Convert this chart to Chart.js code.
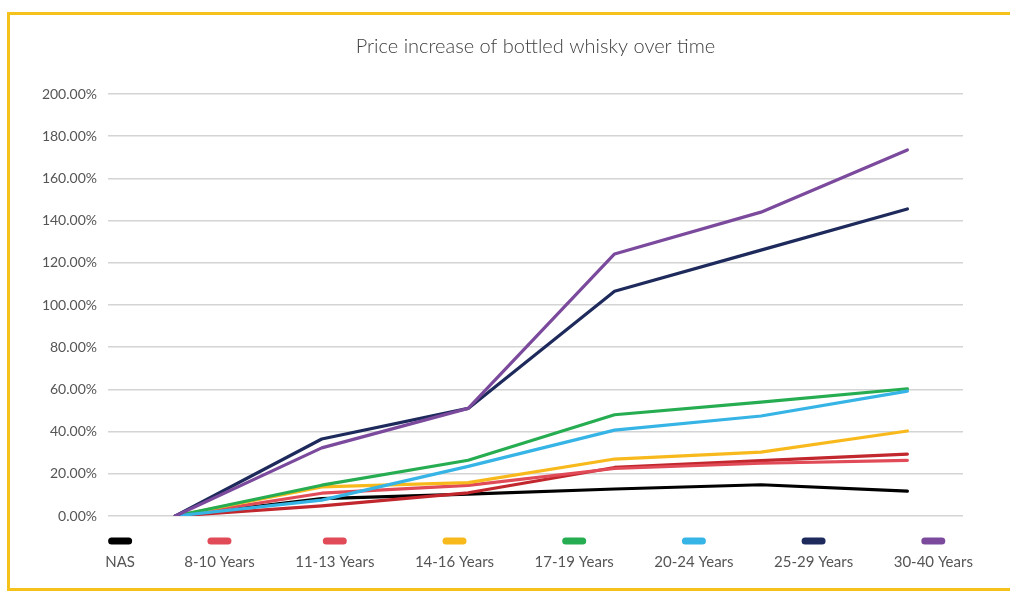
<!DOCTYPE html>
<html>
<head>
<meta charset="utf-8">
<script src="https://cdn.jsdelivr.net/npm/chart.js@4/dist/chart.umd.min.js"></script>
<style>
  html, body { margin: 0; padding: 0; background: #ffffff; }
  #wrap { position: relative; width: 1010px; height: 593px; overflow: hidden; }
  #frame { position: absolute; left: 7px; top: 12px; width: 1020px; height: 573px;
           border: 3px solid #f5c21b; border-right: none; }
  #c { position: absolute; left: 0; top: 0; }
</style>
</head>
<body>
<div id="wrap">
  <div id="frame"></div>
  <canvas id="c" width="1010" height="593"></canvas>
</div>
<script>
const chartTitle = 'Price increase of bottled whisky over time';
const periods = [1, 2, 3, 4, 5, 6];
const seriesNames = ['NAS', '8-10 Years', '11-13 Years', '14-16 Years', '17-19 Years', '20-24 Years', '25-29 Years', '30-40 Years'];
const nas    = [0, 8.2, 10.4, 12.8, 14.8, 11.8];
const y8_10  = [0, 4.8, 11.0, 23.0, 26.2, 29.3];
const y11_13 = [0, 10.8, 14.5, 22.5, 25.0, 26.4];
const y14_16 = [0, 13.8, 15.8, 27.0, 30.3, 40.3];
const y17_19 = [0, 14.6, 26.4, 48.0, 54.0, 60.3];
const y20_24 = [0, 7.5, 23.5, 40.7, 47.4, 59.2];
const y25_29 = [0, 36.5, 51.0, 106.5, 126.0, 145.5];
const y30_40 = [0, 32.3, 51.0, 124.2, 144.0, 173.5];
const yTicks = [0, 20, 40, 60, 80, 100, 120, 140, 160, 180, 200];

const seriesValues = [nas, y8_10, y11_13, y14_16, y17_19, y20_24, y25_29, y30_40];
const colors = ['#000000', '#c1272d', '#e04b57', '#f8b91c', '#27ad51', '#36b4e5', '#1e2a5c', '#7b4a9d'];
const legendColors = ['#000000', '#e04b57', '#e04b57', '#f8b91c', '#27ad51', '#36b4e5', '#1e2a5c', '#7b4a9d'];

const datasets = seriesNames.map((name, i) => ({
  label: name,
  data: periods.map((p, j) => ({ x: p, y: seriesValues[i][j] })),
  borderColor: colors[i],
  backgroundColor: colors[i],
  legendColor: legendColors[i],
  borderWidth: 3.2,
  pointRadius: 0,
  tension: 0,
  fill: false,
  order: seriesNames.length - i,
  borderJoinStyle: 'round',
  borderCapStyle: 'round'
}));

const titleAndLegend = {
  id: 'titleAndLegend',
  afterDraw(chart) {
    const ctx = chart.ctx;
    const area = chart.chartArea;
    ctx.save();
    // title centred over the plot area
    ctx.font = '300 20px Lato, "Open Sans", sans-serif';
    ctx.fillStyle = '#404040';
    ctx.textAlign = 'center';
    ctx.textBaseline = 'middle';
    ctx.fillText(chartTitle, (area.left + area.right) / 2, 47);

    // bottom legend: marker above label, labels right-aligned in equal columns
    const left = 15.3, colW = 119.7;
    const markerY = 541, textY = 562;
    ctx.font = '15px Lato, "Open Sans", sans-serif';
    chart.data.datasets.forEach((ds, i) => {
      const w = ctx.measureText(ds.label).width;
      const right = left + (i + 1) * colW;
      const cx = right - w / 2;
      ctx.strokeStyle = ds.legendColor;
      ctx.lineWidth = 7;
      ctx.lineCap = 'round';
      ctx.beginPath();
      ctx.moveTo(cx - 8.5, markerY);
      ctx.lineTo(cx + 8.5, markerY);
      ctx.stroke();
      ctx.fillStyle = '#555555';
      ctx.fillText(ds.label, cx, textY);
    });
    ctx.restore();
  }
};

new Chart(document.getElementById('c'), {
  type: 'line',
  data: { datasets },
  plugins: [titleAndLegend],
  options: {
    responsive: false,
    animation: false,
    layout: { padding: { left: 0, right: 47, top: 94, bottom: 77 } },
    plugins: {
      legend: { display: false },
      tooltip: { enabled: false },
      title: { display: false }
    },
    scales: {
      x: {
        type: 'linear',
        min: 0.54,
        max: 6.38,
        display: false
      },
      y: {
        min: 0,
        max: 200,
        afterFit(scale) { scale.width = 108; },
        afterBuildTicks(scale) { scale.ticks = yTicks.map(v => ({ value: v })); },
        border: { display: false },
        grid: { color: '#d4d4d4', lineWidth: 1.5, drawTicks: false },
        ticks: {
          padding: 11,
          color: '#555555',
          font: { family: 'Lato, "Open Sans", sans-serif', size: 14 },
          callback: v => v.toFixed(2) + '%'
        }
      }
    }
  }
});
</script>
</body>
</html>
